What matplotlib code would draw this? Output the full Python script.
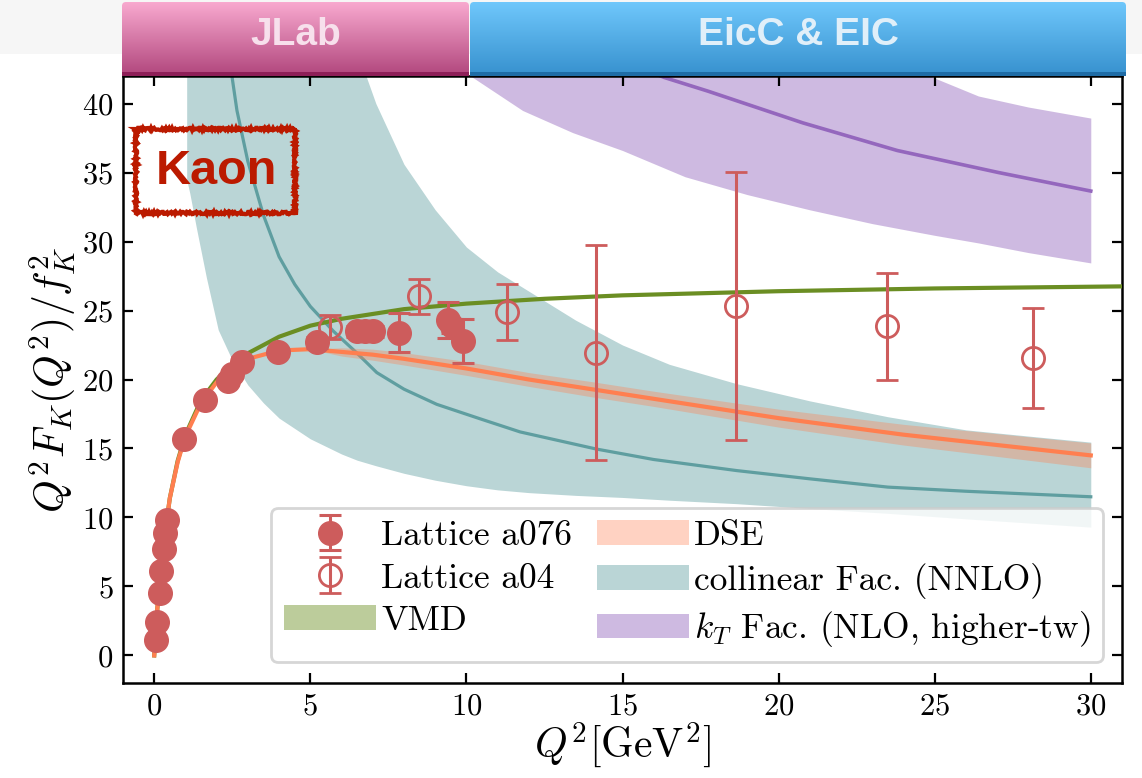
import numpy as np
import matplotlib
matplotlib.use('Agg')
import matplotlib.pyplot as plt
from matplotlib.patches import Patch, Rectangle, FancyBboxPatch

plt.rcParams['mathtext.fontset'] = 'cm'
plt.rcParams['font.family'] = ['cmr10', 'DejaVu Serif']
plt.rcParams['axes.formatter.use_mathtext'] = True

# lattice data
a076_x = [0.06, 0.1, 0.17, 0.23, 0.3, 0.36, 0.42, 0.96, 1.62, 2.35, 2.5, 2.8, 3.97, 5.23,
          6.5, 6.75, 7.0, 7.83, 9.4, 9.55, 9.9]
a076_y = [1.1, 2.4, 4.5, 6.1, 7.7, 8.9, 9.85, 15.7, 18.55, 19.9, 20.4, 21.3, 22.0, 22.7,
          23.5, 23.5, 23.5, 23.4, 24.3, 23.9, 22.8]
a076_err = [0.1, 0.1, 0.1, 0.15, 0.15, 0.15, 0.2, 0.2, 0.2, 0.3, 0.3, 0.3, 0.3, 0.4,
            0.4, 0.4, 0.4, 1.4, 1.3, 0.5, 1.6]

a04_x = [5.62, 8.47, 11.29, 14.16, 18.65, 23.48, 28.15]
a04_y = [23.8, 26.05, 24.9, 21.95, 25.35, 23.85, 21.55]
a04_err = [0.85, 1.27, 2.05, 7.8, 9.7, 3.9, 3.65]

# VMD
vmd_x = [0, 0.1, 0.25, 0.5, 0.75, 1.0, 1.5, 2.0, 2.5, 3.0, 4.0, 5.0, 6.0, 8.0, 10.0,
         12.5, 15.0, 20.0, 25.0, 31.0]
vmd_y = [0, 3.4, 7.3, 11.4, 14.1, 16.0, 18.5, 20.0, 21.1, 21.9, 23.1, 23.9, 24.4, 25.1,
         25.5, 25.85, 26.1, 26.4, 26.6, 26.75]

# DSE
dse_x = [0, 0.1, 0.25, 0.5, 0.75, 1.0, 1.5, 2.0, 2.5, 3.0, 4.0, 5.0, 6.0, 7.0, 8.0, 10.0,
         12.0, 14.0, 16.0, 18.0, 20.0, 22.0, 24.0, 26.0, 28.0, 30.0]
dse_y = [0, 3.4, 7.3, 11.4, 14.0, 15.9, 18.3, 19.8, 20.9, 21.5, 22.1, 22.2, 22.0, 21.8,
         21.5, 20.8, 20.0, 19.3, 18.6, 17.9, 17.2, 16.6, 16.0, 15.5, 15.0, 14.5]
dse_err = [0, 0, 0, 0, 0, 0, 0, 0, 0, 0, 0, 0, 0.3, 0.4, 0.45, 0.5, 0.5, 0.55, 0.55, 0.6,
           0.65, 0.7, 0.75, 0.8, 0.85, 0.9]

# collinear factorization (NNLO)
coll_x = [1.04, 1.14, 1.35, 1.67, 2.05, 2.5, 3.0, 3.5, 4.0, 5.0, 6.0, 6.5, 6.8, 7.1, 8.0,
          9.0, 10.0, 11.0, 12.0, 13.5, 15.0, 16.5, 18.65, 21.0, 23.5, 26.0, 28.0, 30.0]
coll_lo = [34.5, 33.5, 31.0, 27.4, 23.6, 21.4, 19.6, 18.3, 17.2, 15.7, 14.6, 14.15, 13.95,
           13.75, 13.2, 12.7, 12.3, 12.0, 11.8, 11.6, 11.45, 11.25, 11.0, 10.65, 10.3, 9.9,
           9.6, 9.3]
coll_hi = [60, 60, 60, 60, 60, 60, 60, 60, 60, 60, 52, 45.5, 41.9, 40.0, 35.6, 32.3, 29.6,
           27.8, 26.4, 24.3, 22.5, 21.1, 19.7, 18.45, 17.3, 16.35, 15.9, 15.46]
coll_line_x = [2.45, 2.65, 3.0, 3.5, 4.0, 4.5, 5.0, 5.74, 6.5, 7.13, 8.0, 9.05, 10.44,
               11.72, 14.16, 16.0, 18.65, 21.0, 23.5, 26.0, 28.0, 30.0]
coll_line_y = [42.6, 39.5, 35.8, 31.9, 28.9, 26.9, 25.3, 23.5, 21.9, 20.5, 19.3, 18.2,
               17.15, 16.2, 14.96, 14.2, 13.4, 12.8, 12.2, 11.9, 11.7, 11.5]

# kT factorization (NLO, higher-twist)
kt_x = [10.0, 11.8, 13.4, 15.0, 17.0, 19.0, 21.0, 23.0, 25.0, 26.4, 28.0, 30.0]
kt_lo = [42.2, 39.5, 37.9, 36.6, 34.7, 33.4, 32.3, 31.3, 30.45, 29.9, 29.2, 28.45]
kt_hi = [55, 55, 55, 55, 55, 55, 50, 43.8, 41.85, 40.55, 39.75, 38.95]
kt_line_x = [15.8, 16.33, 17.74, 20.78, 23.8, 27.05, 30.0]
kt_line_y = [42.4, 41.9, 40.9, 38.6, 36.6, 35.0, 33.66]

W, H = 1142, 778
fig = plt.figure(figsize=(W / 100, H / 100), dpi=100)
ax = fig.add_axes([123 / W, 1 - 683 / H, 999 / W, 607 / H])

ax.fill_between(coll_x, coll_lo, coll_hi, color='cadetblue', alpha=0.43, lw=0, zorder=1)
ax.plot(coll_line_x, coll_line_y, color='cadetblue', lw=2.3, zorder=2)
ax.fill_between(kt_x, kt_lo, kt_hi, color='tab:purple', alpha=0.45, lw=0, zorder=1)
ax.plot(kt_line_x, kt_line_y, color='tab:purple', lw=2.6, zorder=2)

dse_y = np.array(dse_y)
dse_err = np.array(dse_err)
ax.fill_between(dse_x, dse_y - dse_err, dse_y + dse_err, color='coral', alpha=0.35, lw=0, zorder=3)
ax.plot(vmd_x, vmd_y, color='olivedrab', lw=3, zorder=4)
ax.plot(dse_x, dse_y, color='coral', lw=3, zorder=5)

eb1 = ax.errorbar(a076_x, a076_y, yerr=a076_err, fmt='o', color='indianred', ms=17,
                  capsize=8, elinewidth=2.2, capthick=2.2, zorder=6)
eb2 = ax.errorbar(a04_x, a04_y, yerr=a04_err, fmt='o', color='indianred', mfc='none',
                  mec='indianred', mew=2, ms=16, capsize=8, elinewidth=2.2, capthick=2.2, zorder=6)

ax.set_xlim(-1, 31)
ax.set_ylim(-2, 42)
ax.set_xticks([0, 5, 10, 15, 20, 25, 30])
ax.set_yticks([0, 5, 10, 15, 20, 25, 30, 35, 40])
ax.tick_params(direction='in', length=7, width=1.6, top=True, right=True, labelsize=22, pad=7)
for s in ax.spines.values():
    s.set_linewidth(1.8)
ax.set_xlabel(r'$Q^2[\mathrm{GeV}^2]$', fontsize=30, labelpad=0)
ax.set_ylabel(r'$Q^2F_K(Q^2)/f_K^2$', fontsize=30, labelpad=2)

handles = [eb1, eb2,
           Patch(color='olivedrab', alpha=0.45, lw=0),
           Patch(color='coral', alpha=0.35, lw=0),
           Patch(color='cadetblue', alpha=0.43, lw=0),
           Patch(color='tab:purple', alpha=0.45, lw=0)]
labels = ['Lattice a076', 'Lattice a04', 'VMD', 'DSE', 'collinear Fac. (NNLO)',
          r'$k_T$ Fac. (NLO, higher-tw)']
leg = ax.legend(handles, labels, ncol=2, loc='lower right', bbox_to_anchor=(0.981, 0.035),
                fontsize=25.5, handlelength=2.6, handletextpad=0.15, columnspacing=0.7,
                labelspacing=0.3, borderpad=0.35, borderaxespad=0, fancybox=True,
                edgecolor='#cccccc', framealpha=0.8)
leg.get_frame().set_linewidth(2)
leg.set_zorder(10)

# overlay in pixel coordinates: banners and Kaon tag
ov = fig.add_axes([0, 0, 1, 1], zorder=10)
ov.set_xlim(0, W)
ov.set_ylim(H, 0)
ov.axis('off')
ov.patch.set_alpha(0)
ov.add_patch(Rectangle((0, 0), W, 54, color='#f6f6f6', lw=0, zorder=0))


def banner(x0, x1, top_c, bot_c, line_c, text, text_c):
    y0, y1 = 2, 76
    t = np.linspace(0, 1, 64)[:, None]
    c0 = np.array(matplotlib.colors.to_rgb(top_c))
    c1 = np.array(matplotlib.colors.to_rgb(bot_c))
    grad = (c0 * (1 - t) + c1 * t)[:, None, :]
    box = FancyBboxPatch((x0, y0), x1 - x0, y1 - y0, boxstyle='round,pad=0,rounding_size=4',
                         fc='none', ec='none', transform=ov.transData)
    ov.add_patch(box)
    im = ov.imshow(grad, extent=[x0, x1, y1 - 3, y0], aspect='auto', zorder=1)
    im.set_clip_path(box)
    ov.add_patch(Rectangle((x0, y1 - 4), x1 - x0, 3.5, color=line_c, lw=0, zorder=2))
    ov.text((x0 + x1) / 2, 35, text, ha='center', va='center', fontsize=28,
            fontweight='bold', color=text_c, family='Liberation Sans', zorder=3)


banner(122, 469, '#f8a9cf', '#b44a80', '#8e1f58', 'JLab', '#f7e0ec')
banner(470, 1126, '#6fc7fb', '#3993d0', '#1f6ca6', 'EicC & EIC', '#e0eff9')

kbox = Rectangle((136, 129), 159, 84, fill=False, ec='#bb1a00', lw=3, zorder=4)
kbox.set_sketch_params(1.2, 1.5, 2)
ov.add_patch(kbox)
ov.text(216, 171, 'Kaon', ha='center', va='center', fontsize=35, fontweight='bold',
        color='#bb1a00', family='Liberation Sans', zorder=5)
ov.set_xlim(0, W)
ov.set_ylim(H, 0)

fig.savefig('out.png', dpi=100)
